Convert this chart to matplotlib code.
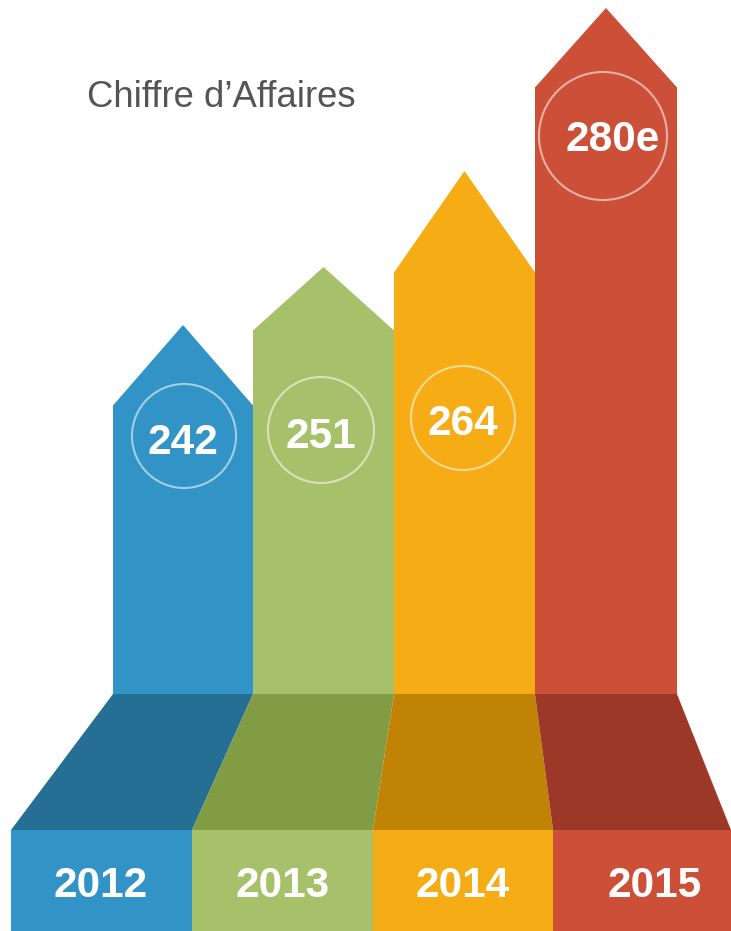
import matplotlib
matplotlib.use("Agg")
import matplotlib.pyplot as plt
from matplotlib.patches import Polygon, Circle, Rectangle

# ---- data ----
years = ["2012", "2013", "2014", "2015"]
values = [242, 251, 264, 280]
value_labels = ["242", "251", "264", "280e"]
title = "Chiffre d\u2019Affaires"

# display heights of arrow body (shoulder) and tip above the base
shoulder_height = [289, 364, 422, 607]
tip_height = [369, 427, 523, 686]

colors = ["#3294C6", "#A7C06A", "#F6AD15", "#CC5038"]
dark_colors = ["#256F94", "#829C44", "#C08306", "#9C3828"]

# ---- layout (pixel-like units, y up) ----
W, H = 731, 931
base_y = 237           # bottom of arrows / top of trapezoids
trap_bottom = 101      # bottom of trapezoids / top of year boxes
top_edges = [113, 253, 394, 535, 677]
bottom_edges = [11, 192, 373, 553, 731]
circle_centers = [(184, 495), (321, 501), (463, 513), (603, 795)]
circle_radii = [52, 53, 52, 64]
label_pos = [(183, 477), (321, 483), (463, 496), (613, 780)]
year_offsets = [-1, 0, 0, 13]

fig = plt.figure(figsize=(W / 100, H / 100), dpi=100)
ax = fig.add_axes([0, 0, 1, 1])
ax.set_xlim(0, W)
ax.set_ylim(0, H)
ax.axis("off")

font = "Liberation Sans"

for i in range(len(years)):
    l, r = top_edges[i], top_edges[i + 1]
    bl, br = bottom_edges[i], bottom_edges[i + 1]
    c = (l + r) / 2
    # arrow body via bar
    ax.bar(c, shoulder_height[i], width=r - l, bottom=base_y, color=colors[i],
           linewidth=0, zorder=2)
    # arrow head
    ax.add_patch(Polygon([(l, base_y + shoulder_height[i] - 0.5),
                          (c, base_y + tip_height[i]),
                          (r, base_y + shoulder_height[i] - 0.5)],
                         closed=True, facecolor=colors[i], linewidth=0, zorder=2))
    # perspective floor
    ax.add_patch(Polygon([(l, base_y), (r, base_y), (br, trap_bottom), (bl, trap_bottom)],
                         closed=True, facecolor=dark_colors[i], linewidth=0, zorder=2))
    # year box
    ax.add_patch(Rectangle((bl, 0), br - bl, trap_bottom, facecolor=colors[i],
                           linewidth=0, zorder=2))
    ax.text((bl + br) / 2 + year_offsets[i], 34, years[i], color="white",
            fontsize=30.5, fontweight="bold", family=font, ha="center",
            va="baseline", zorder=4)
    # circle + value
    cx, cy = circle_centers[i]
    ax.add_patch(Circle((cx, cy), circle_radii[i], facecolor="none",
                        edgecolor=(1, 1, 1, 0.55), linewidth=1.5, zorder=3))
    ax.text(label_pos[i][0], label_pos[i][1], value_labels[i], color="white",
            fontsize=30.5, fontweight="bold", family=font, ha="center",
            va="baseline", zorder=4)

ax.text(87, 824, title, color="#555555", fontsize=26.3, family=font,
        ha="left", va="baseline")

fig.savefig("out.png", dpi=100, facecolor="white")
